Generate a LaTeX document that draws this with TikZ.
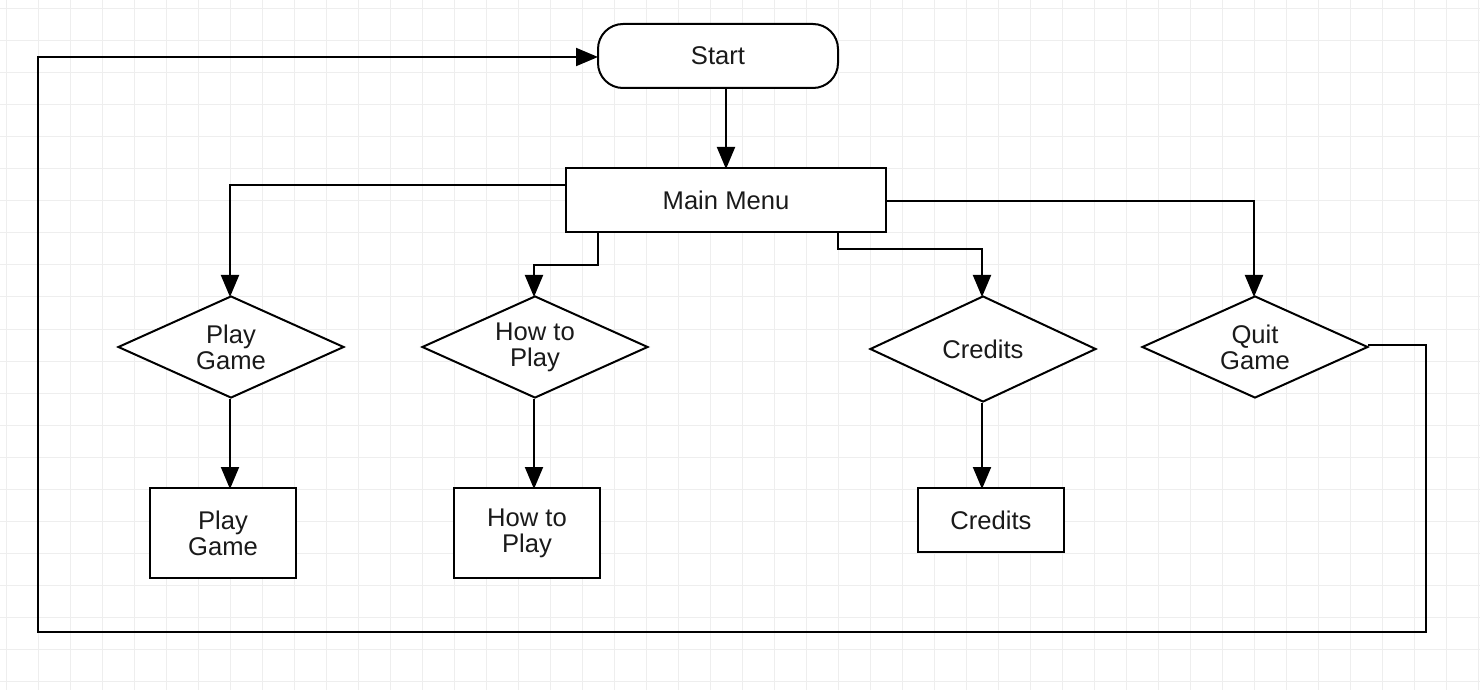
\documentclass[tikz,border=0pt]{standalone}
\usepackage{fontspec}
\setmainfont{Liberation Sans}
\usetikzlibrary{shapes.geometric,arrows.meta,calc}
\definecolor{gridc}{HTML}{EEEEEE}
\definecolor{txt}{HTML}{1A1A1A}
\begin{document}
\begin{tikzpicture}[x=0.5pt,y=-0.5pt,
  every node/.style={font=\fontsize{12.8pt}{13pt}\selectfont,text=txt,align=center,inner sep=0pt,line width=1pt,draw=black,fill=white},
  term/.style={rounded corners=12.5pt,minimum width=120pt,minimum height=32pt},
  proc/.style={rectangle,minimum width=73pt,minimum height=45pt},
  decis/.style={diamond,inner sep=-12pt,minimum width=113pt,minimum height=51pt},
  conn/.style={line width=1pt,-{Triangle[length=11pt,width=9pt]}},
  plain/.style={line width=1pt}]
\useasboundingbox (0,0) rectangle (1480,690);
\fill[white] (0,0) rectangle (1480,690);
\foreach \x in {6,38,...,1478} \draw[gridc,line width=0.5pt] (\x,0) -- (\x,690);
\foreach \y in {9,41,...,689} \draw[gridc,line width=0.5pt] (0,\y) -- (1480,\y);

\node[term] (start) at (718,56) {Start};
\node[rectangle,minimum width=160pt,minimum height=32pt] (main) at (726,200) {Main Menu};
\node[decis] (dpg) at (231,347) {Play\\Game};
\node[decis] (dhp) at (535,347) {How to\\Play};
\node[decis,minimum height=53pt] (dcr) at (983,349) {Credits};
\node[decis] (dqg) at (1255,347) {Quit\\Game};
\node[proc] (pg) at (223,533) {Play\\Game};
\node[proc] (hp) at (527,533) {How to\\Play};
\node[proc,minimum height=32pt] (cr) at (991,520) {Credits};

\coordinate (sa) at (726,89);
\coordinate (ma) at (726,169);
\draw[conn] (sa) -- (ma);

\coordinate (m1) at (566,185);
\coordinate (t1) at (230,297);
\draw[conn] (m1) -| (t1);

\coordinate (m2) at (598,233);
\coordinate (t2) at (534,297);
\draw[conn] (m2) -- (598,265) -| (t2);

\coordinate (m3) at (838,233);
\coordinate (t3) at (982,297);
\draw[conn] (m3) -- (838,249) -| (t3);

\coordinate (m4) at (886,201);
\coordinate (t4) at (1254,297);
\draw[conn] (m4) -| (t4);

\draw[conn] (230,399) -- (230,489);
\draw[conn] (534,399) -- (534,489);
\draw[conn] (982,403) -- (982,489);

\coordinate (q1) at (1368,345);
\coordinate (s1) at (598,57);
\draw[conn] (q1) -- (1426,345) -- (1426,632) -- (38,632) -- (38,57) -- (s1);
\end{tikzpicture}
\end{document}
